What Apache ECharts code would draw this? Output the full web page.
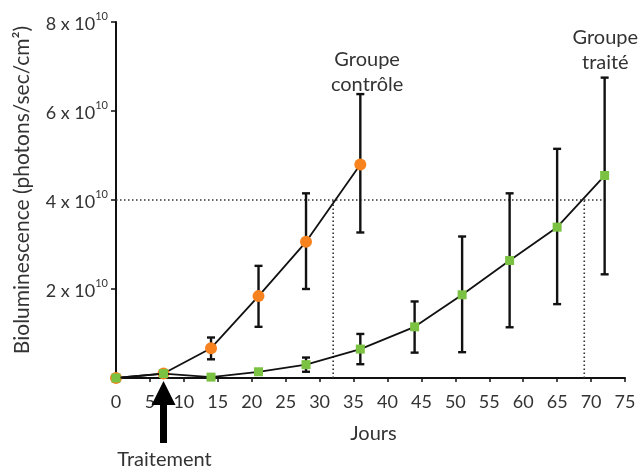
<!DOCTYPE html>
<html><head><meta charset="utf-8">
<script src="https://cdn.jsdelivr.net/npm/echarts@6/dist/echarts.min.js"></script>
<style>html,body{margin:0;padding:0;background:#fff}#c{width:641px;height:468px}</style>
</head><body><div id="c"></div>
<script>
// values in units of 10^10 photons/sec/cm2
const controlDays = [0, 7, 14, 21, 28, 36];
const controlMean = [0, 0.1, 0.67, 1.84, 3.06, 4.8];
const controlLow  = [0, 0.1, 0.42, 1.15, 2.0, 3.27];
const controlHigh = [0, 0.1, 0.91, 2.52, 4.15, 6.38];
const treatedDays = [0, 7, 14, 21, 28, 36, 44, 51, 58, 65, 72];
const treatedMean = [0, 0.1, 0.02, 0.14, 0.3, 0.65, 1.15, 1.87, 2.64, 3.39, 4.55];
const treatedLow  = [0, 0.1, 0.02, 0.14, 0.14, 0.31, 0.57, 0.58, 1.14, 1.66, 2.33];
const treatedHigh = [0, 0.1, 0.02, 0.14, 0.46, 0.99, 1.72, 3.18, 4.15, 5.15, 6.75];
const thresholdLevel = 4;
const thresholdDays = [32, 69];
const thresholdEnd = 72.4;
const treatmentDay = 7;
const yTickLabels = ['', '2 x 10', '4 x 10', '6 x 10', '8 x 10'];
const xName = 'Jours';
const yName = 'Bioluminescence (photons/sec/cm²)';
const groupLabels = ['Groupe\ncontrôle', 'Groupe\ntraité'];
const treatmentLabel = 'Traitement';

const FONT = 'Lato';
const TXT = '#333';

const chart = echarts.init(document.getElementById('c'), null, {renderer: 'canvas'});

function pairs(xs, ys) { return xs.map((x, i) => [x, ys[i]]); }
function bars(xs, lo, hi) { return xs.map((x, i) => [x, lo[i], hi[i]]).filter(d => d[2] - d[1] > 0.05); }

function errRender(params, api) {
  const x = api.value(0), lo = api.value(1), hi = api.value(2);
  const p1 = api.coord([x, hi]), p2 = api.coord([x, lo]);
  const w = 4;
  const style = {stroke: '#111', lineWidth: 2.4};
  return {type: 'group', children: [
    {type: 'line', shape: {x1: p1[0], y1: p1[1], x2: p2[0], y2: p2[1]}, style},
    {type: 'line', shape: {x1: p1[0] - w, y1: p1[1], x2: p1[0] + w, y2: p1[1]}, style},
    {type: 'line', shape: {x1: p2[0] - w, y1: p2[1], x2: p2[0] + w, y2: p2[1]}, style}
  ]};
}

const dotted = {type: [1.5, 2.5], color: '#333', width: 1.6};

chart.setOption({
  animation: false,
  backgroundColor: '#fff',
  grid: {left: 116, right: 16, top: 22, bottom: 90, containLabel: false},
  xAxis: {
    type: 'value', min: 0, max: 75, interval: 5,
    name: xName, nameLocation: 'middle', nameGap: 46,
    nameTextStyle: {fontFamily: FONT, fontSize: 20, color: TXT, padding: [0, 0, 0, 6]},
    axisLine: {onZero: false, lineStyle: {color: '#111', width: 2}},
    axisTick: {show: true, length: 4, lineStyle: {color: '#111', width: 1.5}},
    axisLabel: {fontFamily: FONT, fontSize: 18, color: TXT, margin: 15},
    splitLine: {show: false}
  },
  yAxis: {
    type: 'value', min: 0, max: 8, interval: 2,
    name: yName, nameLocation: 'middle', nameGap: 83,
    nameTextStyle: {fontFamily: FONT, fontSize: 21, color: TXT, padding: [0, 0, 0, 20]},
    axisLine: {show: true, lineStyle: {color: '#111', width: 2}},
    axisTick: {show: true, length: 5, lineStyle: {color: '#111', width: 1.5}},
    axisLabel: {
      margin: 8,
      formatter: (v) => { const t = yTickLabels[Math.round(v / 2)]; return t ? '{b|' + t + '}{s|10}' : ''; },
      rich: {
        b: {fontFamily: FONT, fontSize: 18, color: TXT, lineHeight: 22, verticalAlign: 'bottom'},
        s: {fontFamily: FONT, fontSize: 11, color: TXT, lineHeight: 22, verticalAlign: 'top'}
      }
    },
    splitLine: {show: false}
  },
  series: [
    {
      type: 'line', data: [[0, thresholdLevel], [thresholdEnd, thresholdLevel]],
      symbol: 'none', lineStyle: dotted, silent: true, z: 1
    },
    {
      type: 'line', data: [[thresholdDays[0], 0], [thresholdDays[0], thresholdLevel]],
      symbol: 'none', lineStyle: dotted, silent: true, z: 1
    },
    {
      type: 'line', data: [[thresholdDays[1], 0], [thresholdDays[1], thresholdLevel]],
      symbol: 'none', lineStyle: dotted, silent: true, z: 1
    },
    {type: 'custom', renderItem: errRender, data: bars(controlDays, controlLow, controlHigh), encode: {x: 0, y: [1, 2]}, z: 2},
    {type: 'custom', renderItem: errRender, data: bars(treatedDays, treatedLow, treatedHigh), encode: {x: 0, y: [1, 2]}, z: 2},
    {
      name: 'contrôle', type: 'line', data: pairs(controlDays, controlMean),
      symbol: 'circle', symbolSize: 12, showAllSymbol: true,
      lineStyle: {color: '#111', width: 1.8},
      itemStyle: {color: '#F7821E', borderWidth: 0}, z: 3
    },
    {
      name: 'traité', type: 'line', data: pairs(treatedDays, treatedMean),
      symbol: 'rect', symbolSize: 9, showAllSymbol: true,
      lineStyle: {color: '#111', width: 1.8},
      itemStyle: {color: '#7CC242', borderWidth: 0}, z: 4
    }
  ]
});

function drawAnnotations() {
  const base = chart.convertToPixel({gridIndex: 0}, [treatmentDay, 0]);
  const px = base[0], ay = base[1];
  const c = chart.convertToPixel({gridIndex: 0}, [37, 6.88]);
  const t = chart.convertToPixel({gridIndex: 0}, [72.1, 7.37]);
  const textStyle = {fontFamily: FONT, fontSize: 20, fill: TXT, align: 'center', verticalAlign: 'middle', lineHeight: 25};
  chart.setOption({
    graphic: [
      {type: 'polygon', z: 100, shape: {points: [
        [px, ay + 3], [px + 12, ay + 27], [px + 3.5, ay + 27], [px + 3.5, ay + 65],
        [px - 3.5, ay + 65], [px - 3.5, ay + 27], [px - 12, ay + 27]]},
        style: {fill: '#000'}},
      {type: 'text', x: px + 1, y: ay + 82, style: Object.assign({text: treatmentLabel}, textStyle)},
      {type: 'text', x: c[0], y: c[1], style: Object.assign({text: groupLabels[0]}, textStyle)},
      {type: 'text', x: t[0], y: t[1], style: Object.assign({text: groupLabels[1]}, textStyle)}
    ]
  });
}
drawAnnotations();
</script></body></html>
